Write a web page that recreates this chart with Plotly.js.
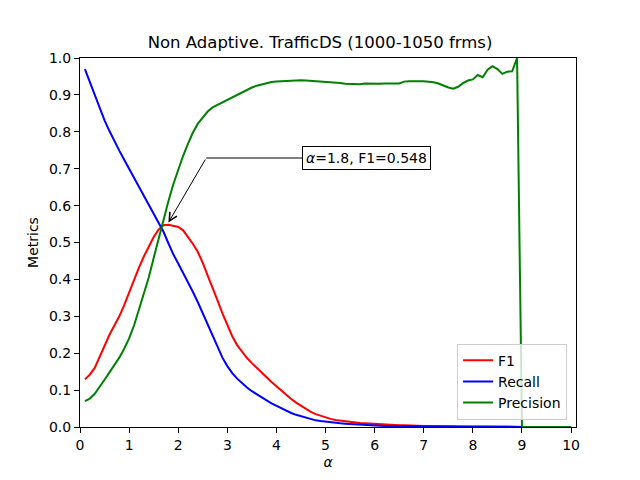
<!DOCTYPE html>
<html>
<head>
<meta charset="utf-8">
<script src="https://cdn.plot.ly/plotly-3.0.1.min.js"></script>
<style>
  html, body { margin: 0; padding: 0; background: #fff; }
  #chart { width: 640px; height: 480px; }
</style>
</head>
<body>
<div id="chart"></div>
<script>
const alpha = [
  0.1, 0.2, 0.3, 0.4, 0.5, 0.6, 0.7, 0.8, 0.9, 1.0,
  1.1, 1.2, 1.3, 1.4, 1.5, 1.6, 1.7, 1.8, 1.9, 2.0,
  2.1, 2.2, 2.3, 2.4, 2.5, 2.6, 2.7, 2.8, 2.9, 3.0,
  3.1, 3.2, 3.3, 3.4, 3.5, 3.6, 3.7, 3.8, 3.9, 4.0,
  4.1, 4.2, 4.3, 4.4, 4.5, 4.6, 4.7, 4.8, 4.9, 5.0,
  5.1, 5.2, 5.3, 5.4, 5.5, 5.6, 5.7, 5.8, 5.9, 6.0,
  6.1, 6.2, 6.3, 6.4, 6.5, 6.6, 6.7, 6.8, 6.9, 7.0,
  7.1, 7.2, 7.3, 7.4, 7.5, 7.6, 7.7, 7.8, 7.9, 8.0,
  8.1, 8.2, 8.3, 8.4, 8.5, 8.6, 8.7, 8.8, 8.9, 9.0,
  9.1, 9.2, 9.3, 9.4, 9.5, 9.6, 9.7, 9.8, 9.9, 10.0
]
const f1 = [
  0.129, 0.142, 0.160, 0.190, 0.222, 0.250, 0.275, 0.300, 0.330, 0.365,
  0.400, 0.432, 0.462, 0.490, 0.515, 0.535, 0.547, 0.548, 0.546, 0.542,
  0.533, 0.516, 0.496, 0.474, 0.445, 0.410, 0.378, 0.343, 0.308, 0.275,
  0.246, 0.222, 0.203, 0.187, 0.173, 0.161, 0.148, 0.135, 0.122, 0.110,
  0.098, 0.087, 0.076, 0.066, 0.057, 0.049, 0.041, 0.035, 0.030, 0.025,
  0.022, 0.019, 0.017, 0.015, 0.014, 0.012, 0.011, 0.010, 0.009, 0.008,
  0.007, 0.007, 0.006, 0.006, 0.005, 0.005, 0.004, 0.004, 0.004, 0.003,
  0.003, 0.003, 0.002, 0.002, 0.002, 0.002, 0.002, 0.001, 0.001, 0.001,
  0.001, 0.001, 0.001, 0.001, 0.001, 0.001, 0.001, 0.001, 0.001, 0.000,
  0, 0, 0, 0, 0, 0, 0, 0, 0, 0
]
const recall = [
  0.970, 0.935, 0.900, 0.865, 0.831, 0.802, 0.774, 0.749, 0.724, 0.700,
  0.676, 0.652, 0.628, 0.604, 0.580, 0.557, 0.529, 0.498, 0.468, 0.443,
  0.418, 0.393, 0.366, 0.338, 0.308, 0.276, 0.245, 0.215, 0.188, 0.165,
  0.146, 0.131, 0.118, 0.107, 0.097, 0.088, 0.080, 0.072, 0.064, 0.057,
  0.050, 0.044, 0.038, 0.033, 0.029, 0.025, 0.021, 0.018, 0.016, 0.014,
  0.012, 0.011, 0.010, 0.009, 0.008, 0.007, 0.006, 0.005, 0.005, 0.004,
  0.004, 0.003, 0.003, 0.003, 0.002, 0.002, 0.002, 0.002, 0.001, 0.001,
  0.001, 0.001, 0.001, 0.001, 0.001, 0.001, 0.000, 0.000, 0.000, 0.000,
  0, 0, 0, 0, 0, 0, 0, 0, 0, 0,
  0, 0, 0, 0, 0, 0, 0, 0, 0, 0
]
const precision = [
  0.070, 0.077, 0.090, 0.108, 0.128, 0.148, 0.168, 0.188, 0.212, 0.240,
  0.275, 0.318, 0.365, 0.405, 0.458, 0.510, 0.565, 0.612, 0.658, 0.697,
  0.735, 0.768, 0.798, 0.822, 0.840, 0.855, 0.866, 0.873, 0.880, 0.887,
  0.894, 0.900, 0.907, 0.913, 0.920, 0.925, 0.929, 0.932, 0.935, 0.936,
  0.937, 0.938, 0.939, 0.939, 0.940, 0.939, 0.938, 0.938, 0.938, 0.937,
  0.936, 0.934, 0.932, 0.930, 0.929, 0.929, 0.929, 0.931, 0.930, 0.931,
  0.930, 0.931, 0.930, 0.931, 0.931, 0.936, 0.937, 0.938, 0.937, 0.937,
  0.936, 0.934, 0.931, 0.925, 0.920, 0.917, 0.922, 0.932, 0.939, 0.942,
  0.954, 0.948, 0.968, 0.978, 0.970, 0.957, 0.963, 0.964, 1.000, 0,
  0, 0, 0, 0, 0, 0, 0, 0, 0, 0
]
const xTicks = [0, 1, 2, 3, 4, 5, 6, 7, 8, 9, 10]
const yTicks = [0, 0.1, 0.2, 0.3, 0.4, 0.5, 0.6, 0.7, 0.8, 0.9, 1.0]
const best = { alpha: 1.8, f1: 0.548 }

const FONT = 'DejaVu Sans, sans-serif'

function line(y, name, color) {
  return {
    x: alpha,
    y: y,
    name: name,
    type: 'scatter',
    mode: 'lines',
    line: { color: color, width: 2 },
    hoverinfo: 'skip'
  }
}

let data = [
  line(f1, 'F1', '#ff0000'),
  line(recall, 'Recall', '#0000ff'),
  line(precision, 'Precision', '#008000')
]

let axis = {
  showgrid: false,
  zeroline: false,
  showline: true,
  mirror: true,
  linecolor: '#000',
  linewidth: 1,
  ticks: 'outside',
  ticklen: 5,
  tickwidth: 1,
  tickcolor: '#000',
  tickfont: { family: FONT, size: 14, color: '#000' },
  fixedrange: true
}

let layout = {
  width: 640,
  height: 480,
  paper_bgcolor: '#fff',
  plot_bgcolor: '#fff',
  font: { family: FONT, size: 14, color: '#000' },
  margin: { l: 80, r: 64, t: 58, b: 53 },
  title: {
    text: 'Non Adaptive. TrafficDS (1000-1050 frms)',
    font: { family: FONT, size: 16.5, color: '#000' },
    x: 0.5,
    xanchor: 'center',
    y: 1 - 42 / 480,
    yanchor: 'middle'
  },
  xaxis: Object.assign({}, axis, {
    range: [0, 10.1],
    tickvals: xTicks,
    ticktext: xTicks.map(String),
    title: { text: '<i>α</i>', font: { family: FONT, size: 14 }, standoff: 5 }
  }),
  yaxis: Object.assign({}, axis, {
    range: [0, 1],
    tickvals: yTicks,
    ticktext: yTicks.map(v => v.toFixed(1)),
    title: { text: 'Metrics', font: { family: FONT, size: 14 }, standoff: 7 }
  }),
  showlegend: true,
  legend: {
    x: 0.982,
    xanchor: 'right',
    y: 0.02,
    yanchor: 'bottom',
    bgcolor: 'rgba(255,255,255,0.8)',
    bordercolor: '#cccccc',
    borderwidth: 1,
    font: { family: FONT, size: 14, color: '#000' },
    tracegroupgap: 0,
    itemwidth: 30
  },
  shapes: [
    {
      type: 'line',
      xref: 'x', yref: 'y',
      x0: 2.57, y0: 0.729, x1: 4.55, y1: 0.729,
      line: { color: '#000', width: 1 }
    }
  ],
  annotations: [
    {
      x: best.alpha, y: best.f1 + 0.006,
      xref: 'x', yref: 'y',
      ax: 2.57, ay: 0.729,
      axref: 'x', ayref: 'y',
      text: '',
      showarrow: true,
      arrowhead: 5,
      arrowsize: 1.6,
      arrowwidth: 1,
      arrowcolor: '#000'
    },
    {
      x: 5.83, y: 0.729,
      xref: 'x', yref: 'y',
      text: '<i>α</i>=' + best.alpha + ', F1=' + best.f1,
      showarrow: false,
      font: { family: FONT, size: 14, color: '#000' },
      bgcolor: '#fff',
      bordercolor: '#000',
      borderwidth: 1,
      borderpad: 3
    }
  ]
}

let config = {
  displayModeBar: false,
  staticPlot: true
}

Plotly.newPlot('chart', data, layout, config)
</script>
</body>
</html>
